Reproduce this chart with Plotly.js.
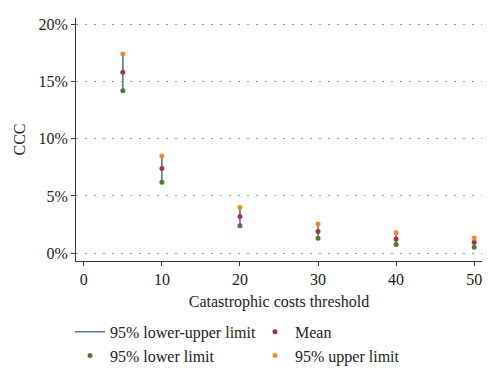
<!DOCTYPE html>
<html>
<head>
<meta charset="utf-8">
<script src="https://cdn.plot.ly/plotly-3.0.1.min.js"></script>
<style>html,body{margin:0;padding:0;background:#fff;}#chart{width:500px;height:378px;}</style>
</head>
<body>
<div id="chart"></div>
<script>
// Data (percent)
const thresholds = [5, 10, 20, 30, 40, 50];
const meanVals   = [15.8, 7.4, 3.2, 1.9, 1.25, 0.96];
const lowerVals  = [14.2, 6.2, 2.4, 1.3, 0.76, 0.52];
const upperVals  = [17.4, 8.5, 4.0, 2.55, 1.78, 1.34];
const yTicks = [0, 5, 10, 15, 20];
const xTicks = [0, 10, 20, 30, 40, 50];

const segX = [], segY = [];
for (let i = 0; i < thresholds.length; i++) {
  segX.push(thresholds[i], thresholds[i], null);
  segY.push(lowerVals[i], upperVals[i], null);
}

const FONT = 'Liberation Serif, DejaVu Serif, serif';
const traces = [
  {x: segX, y: segY, mode: 'lines', name: '95% lower-upper limit',
   line: {color: '#5B73A0', width: 1.6}, hoverinfo: 'skip'},
  {x: thresholds, y: meanVals, mode: 'markers', name: 'Mean',
   marker: {color: '#A8323F', size: 5}},
  {x: thresholds, y: lowerVals, mode: 'markers', name: '95% lower limit',
   marker: {color: '#4F7A35', size: 5}},
  {x: thresholds, y: upperVals, mode: 'markers', name: '95% upper limit',
   marker: {color: '#F08A24', size: 5}}
];

const layout = {
  width: 500, height: 378,
  margin: {l: 76, r: 18, t: 18, b: 117},
  paper_bgcolor: '#fff', plot_bgcolor: '#fff',
  font: {family: FONT, size: 16, color: '#222'},
  showlegend: true,
  legend: {
    orientation: 'h', xref: 'container', yref: 'container',
    x: 0.14, y: 0.167, xanchor: 'left', yanchor: 'top',
    entrywidth: 140, entrywidthmode: 'pixels',
    font: {family: FONT, size: 16, color: '#222'},
    traceorder: 'normal', tracegroupgap: 0
  },
  xaxis: {
    range: [-1, 51], tickvals: xTicks, ticktext: xTicks.map(String),
    showline: true, linecolor: '#333', linewidth: 1,
    ticks: 'outside', ticklen: 4, tickcolor: '#333',
    showgrid: false, zeroline: false,
    title: {text: 'Catastrophic costs threshold', font: {family: FONT, size: 16}, standoff: 8}
  },
  yaxis: {
    range: [-0.68, 20.55], tickvals: yTicks, ticktext: yTicks.map(v => v + '%'),
    showline: true, linecolor: '#333', linewidth: 1,
    ticks: 'outside', ticklen: 4, tickcolor: '#333',
    showgrid: true, gridcolor: '#999999', gridwidth: 1, griddash: '1.5px,7.5px',
    zeroline: false,
    title: {text: 'CCC', font: {family: FONT, size: 16}, standoff: 8}
  }
};

Plotly.newPlot('chart', traces, layout, {displayModeBar: false, staticPlot: true});
</script>
</body>
</html>
